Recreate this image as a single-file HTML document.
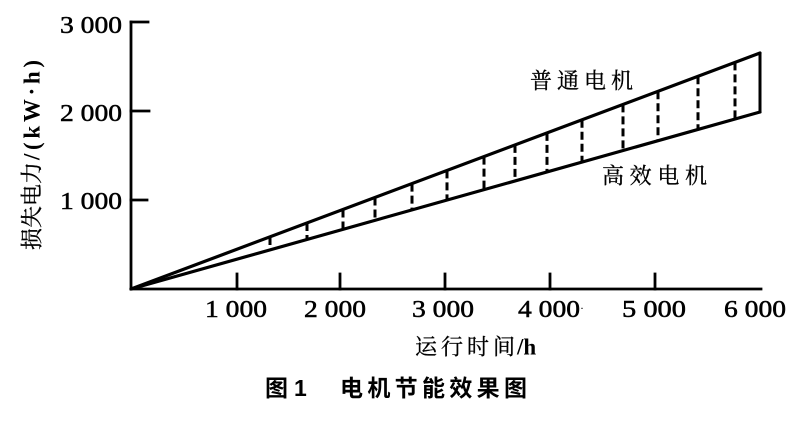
<!DOCTYPE html>
<html><head><meta charset="utf-8"><style>
html,body{margin:0;padding:0;background:#fff;}
svg{display:block;}
</style></head><body>
<svg width="797" height="424" viewBox="0 0 797 424" xmlns="http://www.w3.org/2000/svg">
<rect width="797" height="424" fill="#fff"/>
<!-- axes -->
<g stroke="#000" stroke-width="2.8" fill="none" stroke-linecap="square">
<line x1="131" y1="22" x2="131" y2="289"/>
<line x1="131" y1="289" x2="761" y2="289"/>
<line x1="131" y1="22" x2="148" y2="22"/>
<line x1="131" y1="111" x2="149" y2="111"/>
<line x1="131" y1="200" x2="147" y2="200"/>
<line x1="237" y1="289" x2="237" y2="274"/>
<line x1="340" y1="289" x2="340" y2="274"/>
<line x1="445" y1="289" x2="445" y2="274"/>
<line x1="550" y1="289" x2="550" y2="274"/>
<line x1="655" y1="289" x2="655" y2="274"/>
</g>
<!-- series -->
<g stroke="#000" stroke-width="3.2" fill="none" stroke-linecap="round">
<line x1="131" y1="289" x2="760" y2="53"/>
<line x1="131" y1="289" x2="760" y2="112"/>
<line x1="760" y1="53" x2="760" y2="112" stroke-width="3"/>
</g>
<g stroke="#000" stroke-width="3" fill="none" stroke-dasharray="8 4">
<line x1="270" y1="237" x2="270" y2="250"/>
<line x1="307" y1="223" x2="307" y2="239.5"/>
<line x1="343" y1="209.5" x2="343" y2="229.3"/>
<line x1="375" y1="197.5" x2="375" y2="220.3"/>
<line x1="412" y1="183.6" x2="412" y2="209.9"/>
<line x1="447" y1="170.4" x2="447" y2="200.1"/>
<line x1="484" y1="156.6" x2="484" y2="189.7"/>
<line x1="515" y1="144.9" x2="515" y2="180.9"/>
<line x1="547" y1="132.9" x2="547" y2="171.9"/>
<line x1="582" y1="119.8" x2="582" y2="162.1"/>
<line x1="623" y1="104.4" x2="623" y2="150.6"/>
<line x1="658" y1="91.3" x2="658" y2="140.7"/>
<line x1="698" y1="76.3" x2="698" y2="129.4"/>
<line x1="735" y1="62.4" x2="735" y2="119"/>
</g>
<!-- y tick labels -->
<g font-family="'Liberation Serif', serif" font-size="24" fill="#000" stroke="#000" stroke-width="0.5" text-anchor="end">
<text x="122" y="33" textLength="62" lengthAdjust="spacingAndGlyphs">3 000</text>
<text x="122" y="121" textLength="62" lengthAdjust="spacingAndGlyphs">2 000</text>
<text x="122" y="209" textLength="62" lengthAdjust="spacingAndGlyphs">1 000</text>
</g>
<!-- x tick labels -->
<g font-family="'Liberation Serif', serif" font-size="24" fill="#000" stroke="#000" stroke-width="0.5">
<text x="205" y="317" textLength="62" lengthAdjust="spacingAndGlyphs">1 000</text>
<text x="304" y="317" textLength="62" lengthAdjust="spacingAndGlyphs">2 000</text>
<text x="412" y="317" textLength="62" lengthAdjust="spacingAndGlyphs">3 000</text>
<text x="518" y="317" textLength="62" lengthAdjust="spacingAndGlyphs">4 000</text>
<text x="580" y="312" font-size="12" stroke-width="0">·</text>
<text x="622" y="317" textLength="64" lengthAdjust="spacingAndGlyphs">5 000</text>
<text x="724" y="317" textLength="62" lengthAdjust="spacingAndGlyphs">6 000</text>
</g>
<!-- y axis title -->
<g transform="translate(32,155) rotate(-90)">
<text x="-95" y="0" dominant-baseline="central" font-family="'Liberation Serif', 'Noto Serif CJK SC', serif" font-size="22" fill="#000" stroke="#000" stroke-width="0.3" textLength="88" lengthAdjust="spacing">损失电力</text>
<text x="-5" y="0" dominant-baseline="central" font-family="'Liberation Serif', serif" font-weight="bold" font-size="23" fill="#000" textLength="100" lengthAdjust="spacing">/(kW·h)</text>
</g>
<!-- x axis title -->
<text x="415" y="347" dominant-baseline="central" font-family="'Liberation Serif', 'Noto Serif CJK SC', serif" font-size="22" fill="#000" stroke="#000" stroke-width="0.3" textLength="100" lengthAdjust="spacing">运行时间</text>
<text x="517" y="347" dominant-baseline="central" font-family="'Liberation Serif', serif" font-weight="bold" font-size="23" fill="#000">/h</text>
<!-- series labels -->
<text x="530" y="81" dominant-baseline="central" font-family="'Liberation Serif', 'Noto Serif CJK SC', serif" font-size="22" fill="#000" stroke="#000" stroke-width="0.3" textLength="103" lengthAdjust="spacing">普通电机</text>
<text x="602" y="176" dominant-baseline="central" font-family="'Liberation Serif', 'Noto Serif CJK SC', serif" font-size="22" fill="#000" stroke="#000" stroke-width="0.3" textLength="105" lengthAdjust="spacing">高效电机</text>
<!-- caption -->
<g font-family="'Liberation Sans', 'Noto Sans CJK SC', sans-serif" font-weight="bold" font-size="23" fill="#000">
<text x="265" y="388" dominant-baseline="central">图</text>
<text x="294" y="388" dominant-baseline="central">1</text>
<text x="340" y="388" dominant-baseline="central" textLength="187" lengthAdjust="spacing">电机节能效果图</text>
</g>
</svg>
</body></html>
